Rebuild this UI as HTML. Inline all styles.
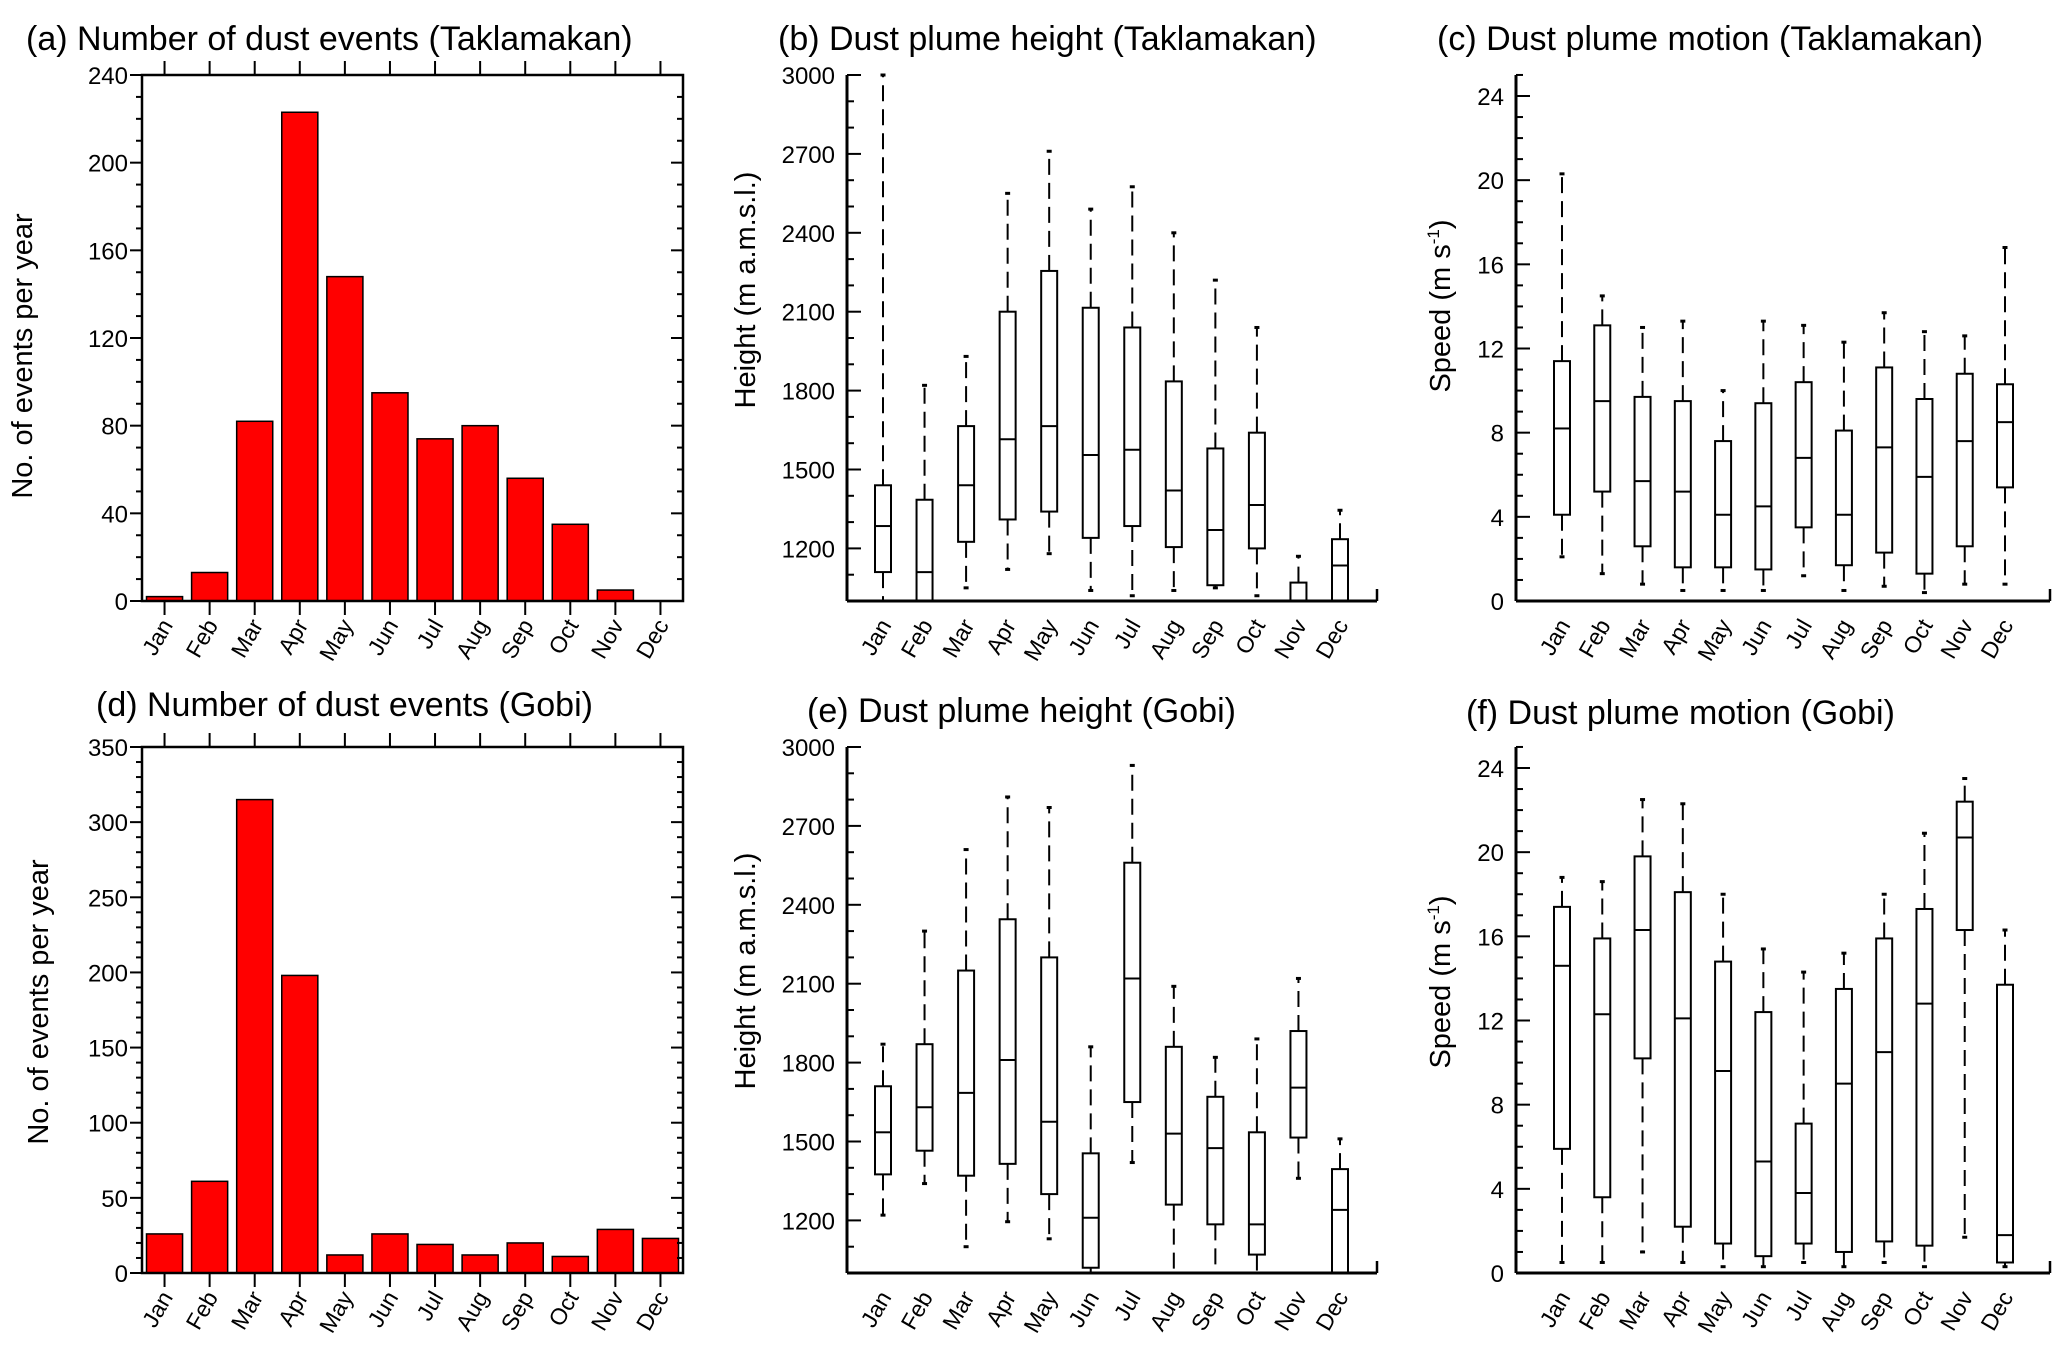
<!DOCTYPE html>
<html><head><meta charset="utf-8"><style>
body{margin:0;background:#fff}
svg{display:block;font-family:"Liberation Sans",sans-serif}
</style></head><body>
<svg id="fig" width="2067" height="1358" viewBox="0 0 2067 1358" xmlns="http://www.w3.org/2000/svg"></svg>
<script>
const months=["Jan","Feb","Mar","Apr","May","Jun","Jul","Aug","Sep","Oct","Nov","Dec"];
const eventsTak=[2,13,82,223,148,95,74,80,56,35,5,0];
const eventsGobi=[26,61,315,198,12,26,19,12,20,11,29,23];
const ticksTak=[0,40,80,120,160,200,240];
const ticksGobi=[0,50,100,150,200,250,300,350];
const ticksHeight=[1200,1500,1800,2100,2400,2700,3000];
const ticksSpeed=[0,4,8,12,16,20,24];
// [low whisker, q1, median, q3, high whisker]
const heightTak=[[1000,1110,1285,1440,3000],[1000,1000,1110,1385,1820],[1050,1225,1440,1665,1930],[1120,1310,1615,2100,2550],[1180,1340,1665,2255,2710],[1040,1240,1555,2115,2490],[1020,1285,1575,2040,2575],[1040,1205,1420,1835,2400],[1050,1060,1270,1580,2220],[1020,1200,1365,1640,2040],[1000,1000,1000,1070,1170],[1000,1000,1135,1235,1345]];
const speedTak=[[2.1,4.1,8.2,11.4,20.3],[1.3,5.2,9.5,13.1,14.5],[0.8,2.6,5.7,9.7,13.0],[0.5,1.6,5.2,9.5,13.3],[0.5,1.6,4.1,7.6,10.0],[0.5,1.5,4.5,9.4,13.3],[1.2,3.5,6.8,10.4,13.1],[0.5,1.7,4.1,8.1,12.3],[0.7,2.3,7.3,11.1,13.7],[0.4,1.3,5.9,9.6,12.8],[0.8,2.6,7.6,10.8,12.6],[0.8,5.4,8.5,10.3,16.8]];
const heightGobi=[[1220,1375,1535,1710,1870],[1340,1465,1630,1870,2300],[1100,1370,1685,2150,2610],[1195,1415,1810,2345,2810],[1130,1300,1575,2200,2770],[1000,1020,1210,1455,1860],[1420,1650,2120,2560,2930],[1000,1260,1530,1860,2090],[1000,1185,1475,1670,1820],[1000,1070,1185,1535,1890],[1360,1515,1705,1920,2120],[1000,1000,1240,1395,1510]];
const speedGobi=[[0.5,5.9,14.6,17.4,18.8],[0.5,3.6,12.3,15.9,18.6],[1.0,10.2,16.3,19.8,22.5],[0.5,2.2,12.1,18.1,22.3],[0.3,1.4,9.6,14.8,18.0],[0.3,0.8,5.3,12.4,15.4],[0.5,1.4,3.8,7.1,14.3],[0.3,1.0,9.0,13.5,15.2],[0.5,1.5,10.5,15.9,18.0],[0.3,1.3,12.8,17.3,20.9],[1.7,16.3,20.7,22.4,23.5],[0.3,0.5,1.8,13.7,16.3]];

const svg=document.getElementById('fig');
const NS="http://www.w3.org/2000/svg";
function el(tag,attrs,parent,txt){const e=document.createElementNS(NS,tag);for(const k in attrs)e.setAttribute(k,attrs[k]);if(txt!==undefined)e.textContent=txt;(parent||svg).appendChild(e);return e;}
function line(g,x1,y1,x2,y2,w,extra){return el('line',Object.assign({x1,y1,x2,y2,stroke:'#000','stroke-width':w||2},extra||{}),g);}

function title(txt,x,y,name){const t=el('text',{x,y,'font-size':34,fill:'#000'},svg,txt);}
function ytitle(g,txt,x,y,sup){const t=el('text',{x,y,'font-size':29,'text-anchor':'middle',transform:`rotate(-90 ${x} ${y})`},g,txt);
 if(sup){el('tspan',{'font-size':17,dy:-11},t,sup);el('tspan',{dy:11},t,')');}
 }
function monthLabels(g,xs,yb){months.forEach((m,i)=>{const x=xs(i)+9,y=yb+24;const t=el('text',{x,y,'font-size':23,'text-anchor':'end',transform:`rotate(-60 ${x} ${y})`},g,m);});}

function barPanel(name,L,R,T,B,vals,ticks,minorStep,ytx,yty){
 const g=el('g',{});
 const max=ticks[ticks.length-1];const ys=v=>B-(v/max)*(B-T);const slot=(R-L)/12;const xs=i=>L+slot*(i+0.5);
 vals.forEach((v,i)=>{const bw=slot*0.8;const r=el('rect',{x:xs(i)-bw/2,y:ys(v),width:bw,height:B-ys(v),fill:'#ff0000',stroke:'#000','stroke-width':1.5},g);
  });
 el('rect',{x:L,y:T,width:R-L,height:B-T,fill:'none',stroke:'#000','stroke-width':2.5},g);
 for(let v=0;v<=max+1e-9;v+=minorStep){const y=ys(v);const maj=ticks.includes(Math.round(v));line(g,L,y,L-(maj?12:6),y,2);line(g,R,y,R-(maj?12:6),y,2);}
 ticks.forEach(v=>{const t=el('text',{x:L-14,y:ys(v)+9,'font-size':24,'text-anchor':'end'},g,v);});
 months.forEach((m,i)=>{line(g,xs(i),B,xs(i),B+14,2);line(g,xs(i),T,xs(i),T-14,2);});
 monthLabels(g,xs,B);ytitle(g,'No. of events per year',ytx,yty);
}
function boxPanel(name,L,R,T,B,spineTop,vmin,vmax,data,ticks,minorStep,x0,x11,ytxt,ytx,yty,sup){
 const g=el('g',{});
 const ys=v=>B-(v-vmin)/(vmax-vmin)*(B-T);const xs=i=>x0+(x11-x0)*i/11;
 line(g,L,B,L,spineTop,3);line(g,L,B,R,B,3);line(g,R,B,R,B-12,2.5);
 for(let v=vmin;ys(v)>=spineTop-0.5;v+=minorStep){const y=ys(v);const maj=ticks.some(t=>Math.abs(t-v)<1e-6);line(g,L,y,L+(maj?14:7),y,2);}
 ticks.forEach(v=>{const t=el('text',{x:L-12,y:ys(v)+9,'font-size':24,'text-anchor':'end'},g,v);});
 data.forEach((d,i)=>{const cx=xs(i),w=16;const bg=el('g',{},g);
  line(bg,cx,ys(d[3]),cx,ys(d[4]),2,{'stroke-dasharray':'16,8'});line(bg,cx,ys(d[1]),cx,ys(d[0]),2,{'stroke-dasharray':'16,8'});
  line(bg,cx-2.5,ys(d[4]),cx+2.5,ys(d[4]),3);line(bg,cx-2.5,ys(d[0]),cx+2.5,ys(d[0]),3);
  el('rect',{x:cx-w/2,y:ys(d[3]),width:w,height:Math.max(0,ys(d[1])-ys(d[3])),fill:'none',stroke:'#000','stroke-width':2},bg);
  line(bg,cx-w/2,ys(d[2]),cx+w/2,ys(d[2]),2);});
 monthLabels(g,xs,B);ytitle(g,ytxt,ytx,yty,sup);
}
title('(a) Number of dust events (Taklamakan)',26,50,'panel-a-title');
title('(b) Dust plume height (Taklamakan)',778,50,'panel-b-title');
title('(c) Dust plume motion (Taklamakan)',1437,50,'panel-c-title');
title('(d) Number of dust events (Gobi)',96,716,'panel-d-title');
title('(e) Dust plume height (Gobi)',807,722,'panel-e-title');
title('(f) Dust plume motion (Gobi)',1466,724,'panel-f-title');
barPanel('panel-a-chart',142,683,75,601,eventsTak,ticksTak,10,32,356);
barPanel('panel-d-chart',142,683,747,1273,eventsGobi,ticksGobi,10,48,1002);
boxPanel('panel-b-chart',847,1377,75,601,75,1000,3000,heightTak,ticksHeight,100,883,1340,'Height (m a.m.s.l.)',755,290);
boxPanel('panel-e-chart',847,1377,747,1273,747,1000,3000,heightGobi,ticksHeight,100,883,1340,'Height (m a.m.s.l.)',755,971);
boxPanel('panel-c-chart',1516,2050,96,601,75,0,24,speedTak,ticksSpeed,1,1562,2005,'Speed (m s',1450,306,'-1');
boxPanel('panel-f-chart',1516,2050,768,1273,747,0,24,speedGobi,ticksSpeed,1,1562,2005,'Speed (m s',1450,982,'-1');
</script>
</body></html>
